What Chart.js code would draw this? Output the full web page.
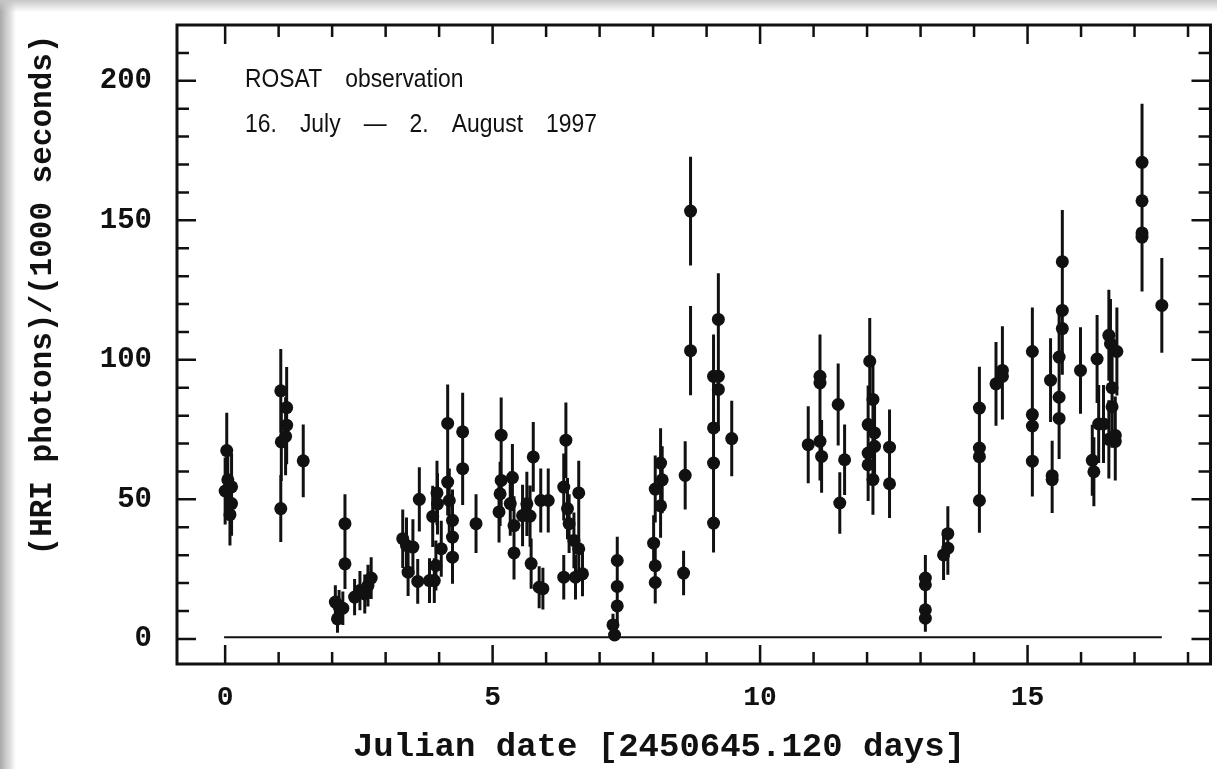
<!DOCTYPE html>
<html>
<head>
<meta charset="utf-8">
<title>ROSAT HRI light curve</title>
<script src="https://cdn.jsdelivr.net/npm/chart.js@4.4.1/dist/chart.umd.min.js"></script>
<style>
  html, body { margin: 0; padding: 0; background: #fff; }
  #wrap { position: relative; width: 1217px; height: 769px; overflow: hidden; }
  #edgeL { position: absolute; left: 0; top: 0; width: 16px; height: 769px;
           background: linear-gradient(to right, #a9a9a9, rgba(255,255,255,0)); }
  #edgeT { position: absolute; left: 0; top: 0; width: 1217px; height: 12px;
           background: linear-gradient(to bottom, #c6c6c6, rgba(255,255,255,0)); }
</style>
</head>
<body>
<div id="wrap">
  <canvas id="lightCurve" width="1217" height="769"></canvas>
  <div id="edgeL"></div>
  <div id="edgeT"></div>
</div>
<script>
// time since JD 2450645.120 (days)
const timeDays = [
  0.00, 0.03, 0.05, 0.12, 0.12, 0.09,
  1.04, 1.15, 1.15, 1.13, 1.05, 1.04, 1.46,
  2.06, 2.10, 2.13, 2.20, 2.24, 2.24,
  2.42, 2.52, 2.61, 2.67, 2.73,
  3.32, 3.39, 3.51, 3.42, 3.63, 3.60, 3.82, 3.91, 3.88, 3.94, 3.96, 3.97, 4.04,
  4.16, 4.16, 4.19, 4.25, 4.25, 4.25, 4.44, 4.44, 4.69,
  5.16, 5.16, 5.14, 5.12, 5.37, 5.33, 5.40, 5.40, 5.56, 5.64, 5.70, 5.76, 5.72,
  5.87, 5.94, 5.90, 6.04,
  6.37, 6.33, 6.40, 6.43, 6.52, 6.61, 6.33, 6.55, 6.68, 6.61,
  7.33, 7.33, 7.33, 7.25, 7.28,
  8.14, 8.17, 8.04, 8.14, 8.01, 8.04, 8.04,
  8.60, 8.57, 8.70, 8.70,
  9.22, 9.13, 9.22, 9.22, 9.13, 9.13, 9.13, 9.47,
  10.90, 11.12, 11.12, 11.12, 11.15, 11.46, 11.58, 11.49,
  12.05, 12.11, 12.02, 12.14, 12.14, 12.02, 12.02, 12.11, 12.42, 12.42,
  13.09, 13.09, 13.09, 13.09, 13.43, 13.51, 13.51,
  14.10, 14.10, 14.10, 14.10, 14.41, 14.53, 14.53,
  15.09, 15.09, 15.09, 15.09, 15.43, 15.46, 15.46, 15.59, 15.59, 15.59,
  15.65, 15.65, 15.65, 15.99, 16.21, 16.24, 16.30, 16.33, 16.42,
  16.52, 16.55, 16.58, 16.58, 16.52, 16.64, 16.67, 16.64,
  17.14, 17.14, 17.14, 17.14, 17.51
];

// HRI photons per 1000 s
const photonRate = [
  53.0, 67.5, 57.0, 54.5, 48.5, 44.5,
  88.9, 82.9, 76.6, 72.6, 70.6, 46.7, 63.8,
  13.2, 7.2, 11.5, 11.0, 41.3, 26.9,
  15.0, 17.3, 16.1, 19.1, 21.8,
  35.9, 33.5, 32.9, 23.9, 50.0, 20.6, 20.9, 20.9, 43.9, 26.3, 52.3, 48.4, 32.3,
  77.2, 56.2, 49.6, 42.5, 36.5, 29.3, 74.2, 61.0, 41.3,
  73.0, 56.8, 52.0, 45.5, 57.8, 48.5, 40.6, 30.8, 44.2, 48.4, 44.0, 65.2, 27.0,
  18.5, 18.0, 49.6, 49.6,
  71.2, 54.4, 46.7, 41.3, 35.3, 32.3, 22.1, 22.1, 23.3, 52.3,
  28.1, 18.8, 11.8, 5.0, 1.4,
  63.0, 57.0, 53.7, 47.7, 34.3, 26.2, 20.2,
  58.6, 23.6, 153.3, 103.3,
  114.5, 94.1, 94.1, 89.4, 75.6, 63.0, 41.5, 71.8,
  69.6, 94.1, 91.7, 70.8, 65.4, 84.0, 64.2, 48.7,
  99.5, 85.8, 76.8, 73.8, 69.0, 66.6, 62.4, 57.1, 68.7, 55.6,
  21.8, 19.4, 10.4, 7.4, 30.1, 37.7, 32.5,
  82.7, 68.4, 65.3, 49.6, 91.4, 96.2, 94.1,
  103.0, 80.4, 76.3, 63.7, 92.7, 58.5, 57.1, 101.0, 86.6, 79.0,
  135.2, 117.7, 111.2, 96.2, 64.0, 59.9, 100.3, 77.0, 77.0,
  108.8, 105.8, 90.0, 83.2, 71.5, 72.9, 103.0, 70.8,
  170.8, 157.0, 145.5, 144.0, 119.5
];

// 1 sigma errors
const rateError = [
  12, 13.5, 12.5, 12, 11.5, 11,
  15, 14.5, 14, 14, 14, 12, 13,
  6, 5, 6, 6, 10.5, 9,
  6.5, 7, 7, 7.5, 7.5,
  10.5, 10, 10, 8.5, 11.5, 8, 8, 8, 11, 9, 11.5, 11, 10,
  14, 12, 11.5, 11, 10.5, 9.5, 14, 13, 10.5,
  13.5, 12, 11.5, 11, 12, 11.5, 10.5, 9.5, 11, 11.5, 11, 12.5, 9,
  7.5, 7.5, 11.5, 11.5,
  13.5, 12, 11, 10.5, 10, 10, 8, 8, 8, 11.5,
  8.5, 7, 6, 4, 2,
  12.5, 12, 12, 11.5, 10, 9, 7.5,
  12.2, 8, 19.5, 16,
  16.5, 15, 15, 15, 14, 12.5, 10.5, 13.5,
  13.8, 15, 15, 14, 13, 14.7, 12.6, 11,
  15.5, 15, 14, 14, 13.5, 13, 13, 12.6, 13.5, 12.3,
  8.3, 8, 6, 4.8, 9, 9.8, 9.5,
  14.8, 13.5, 13, 11.6, 15, 15.8, 15.5,
  15.8, 14.5, 14, 12.7, 15, 12.5, 12, 16, 15, 14.5,
  18.5, 17, 16.5, 15.5, 12.7, 12.4, 15.8, 14, 14,
  16.3, 16, 15, 14.7, 14, 14, 15.8, 14,
  21, 20, 19.5, 19.5, 17
];

// background level
const bgTime = [-0.02, 17.51];
const bgRate = [0.6, 0.6];

const xTickValues = [0, 5, 10, 15];
const yTickValues = [0, 50, 100, 150, 200];

const xTitle = 'Julian date [2450645.120 days]';
const yTitle = '(HRI photons)/(1000 seconds)';
const noteLines = ['ROSAT observation', '16. July — 2. August 1997'];

const ink = '#111';
const mono = '"Liberation Mono", "DejaVu Sans Mono", monospace';

const points = timeDays.map((t, i) => ({ x: t, y: photonRate[i] }));
const errorBars = [];
timeDays.forEach((t, i) => {
    errorBars.push({ x: t, y: photonRate[i] - rateError[i] });
    errorBars.push({ x: t, y: photonRate[i] + rateError[i] });
    errorBars.push({ x: t, y: null });
});
const background = bgTime.map((t, i) => ({ x: t, y: bgRate[i] }));

// box around the plot with inward ticks on all four sides
const frameTicks = {
    id: 'frameTicks',
    afterDraw(chart) {
        const { ctx, chartArea: a, scales: { x, y } } = chart;
        ctx.save();
        ctx.strokeStyle = ink;
        ctx.lineWidth = 2.5;
        for (let v = Math.ceil(x.min); v < x.max; v++) {
            const px = x.getPixelForValue(v);
            const len = v % 5 === 0 ? 19 : 12;
            ctx.beginPath();
            ctx.moveTo(px, a.bottom); ctx.lineTo(px, a.bottom - len);
            ctx.moveTo(px, a.top); ctx.lineTo(px, a.top + len);
            ctx.stroke();
        }
        for (let v = Math.ceil(y.min / 10) * 10; v < y.max; v += 10) {
            const py = y.getPixelForValue(v);
            const len = v % 50 === 0 ? 19 : 12;
            ctx.beginPath();
            ctx.moveTo(a.left, py); ctx.lineTo(a.left + len, py);
            ctx.moveTo(a.right, py); ctx.lineTo(a.right - len, py);
            ctx.stroke();
        }
        ctx.lineWidth = 3;
        ctx.strokeRect(a.left, a.top, a.right - a.left, a.bottom - a.top);
        ctx.restore();
    }
};

// axis titles and the observation note
const labels = {
    id: 'labels',
    afterDraw(chart) {
        const { ctx, chartArea: a } = chart;
        ctx.save();
        ctx.fillStyle = ink;
        ctx.textAlign = 'center';
        ctx.textBaseline = 'middle';
        ctx.font = 'bold 34px ' + mono;
        ctx.fillText(xTitle, a.left + 482, a.bottom + 83);

        ctx.save();
        ctx.translate(a.left - 134, a.top + 270);
        ctx.rotate(-Math.PI / 2);
        ctx.font = 'bold 31px ' + mono;
        ctx.fillText(yTitle, 0, 0);
        ctx.restore();

        ctx.translate(a.left + 68, a.top);
        ctx.scale(0.88, 1);
        ctx.textAlign = 'left';
        ctx.textBaseline = 'alphabetic';
        ctx.font = '26px "Liberation Sans", Arial, sans-serif';
        ctx.wordSpacing = '19px';
        ctx.fillText(noteLines[0], 0, 62);
        ctx.fillText(noteLines[1], 0, 107);
        ctx.restore();
    }
};

new Chart(document.getElementById('lightCurve'), {
    type: 'scatter',
    data: {
        datasets: [
            {
                label: 'count rate',
                data: points,
                order: 0,
                pointRadius: 6.5,
                pointBorderWidth: 0,
                pointBackgroundColor: ink,
                showLine: false
            },
            {
                label: 'errors',
                data: errorBars,
                order: 1,
                showLine: true,
                spanGaps: false,
                pointRadius: 0,
                borderColor: ink,
                borderWidth: 3
            },
            {
                label: 'background',
                data: background,
                order: 2,
                showLine: true,
                pointRadius: 0,
                borderColor: ink,
                borderWidth: 2
            }
        ]
    },
    options: {
        responsive: false,
        animation: false,
        events: [],
        layout: { padding: { left: 0, top: 25, right: 3, bottom: 0 } },
        plugins: { legend: { display: false }, tooltip: { enabled: false } },
        scales: {
            x: {
                type: 'linear',
                position: 'bottom',
                min: -0.9,
                max: 18.42,
                grid: { display: false, drawTicks: false },
                border: { display: false },
                afterBuildTicks: s => { s.ticks = xTickValues.map(v => ({ value: v })); },
                afterFit: s => { s.height = 105; s.paddingLeft = 0; s.paddingRight = 0; },
                ticks: {
                    autoSkip: false,
                    maxRotation: 0,
                    padding: 17,
                    color: ink,
                    font: { family: mono, size: 28, weight: 'bold' }
                }
            },
            y: {
                type: 'linear',
                min: -9,
                max: 220,
                grid: { display: false, drawTicks: false },
                border: { display: false },
                afterBuildTicks: s => { s.ticks = yTickValues.map(v => ({ value: v })); },
                afterFit: s => { s.width = 177; s.paddingTop = 0; s.paddingBottom = 0; },
                ticks: {
                    autoSkip: false,
                    padding: 25,
                    color: ink,
                    font: { family: mono, size: 29, weight: 'bold' }
                }
            }
        }
    },
    plugins: [frameTicks, labels]
});
</script>
</body>
</html>
